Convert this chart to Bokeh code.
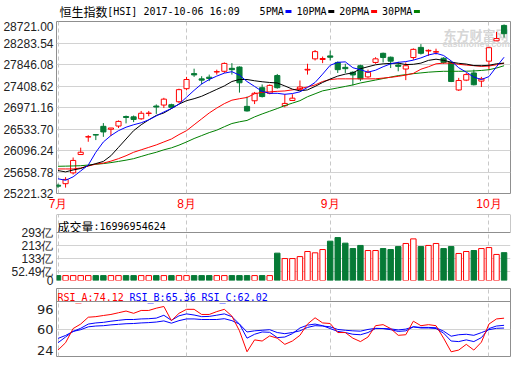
from bokeh.plotting import figure
from bokeh.layouts import column
from bokeh.models import Range1d, FixedTicker, Span, Grid, PrintfTickFormatter
from bokeh.core.properties import value
from bokeh.embed import file_html
from bokeh.resources import INLINE

# ---------------- data ----------------
month_idx = [0, 17, 36, 57]
month_labels = ["7月", "8月", "9月", "10月"]

price_ticks = [25221.32, 25658.78, 26096.24, 26533.70, 26971.16,
               27408.62, 27846.08, 28283.54, 28721.00]

open_ = [25390, 25421, 25641, 26014, 26370, 26420, 26588, 26528, 26594, 26788,
         26781, 26741, 26850, 27001, 27021, 27028, 27088, 27354, 27661, 27554,
         27588, 27694, 27708, 27768, 27794, 26994, 27108, 27374, 27261, 27621,
         27008, 27114, 27341, 27734, 27961, 27948, 28021, 27888, 27788, 27688,
         27821, 27594, 27888, 28074, 27994, 27834, 27754, 27988, 28194, 28121,
         28098, 27974, 27888, 27328, 27528, 27674, 27508, 27914, 28328, 28641]
high = [25420, 25554, 25954, 26154, 26408, 26425, 26654, 26554, 26708, 26808,
        26808, 26901, 26901, 27034, 27168, 27048, 27354, 27594, 27761, 27608,
        27641, 27741, 27888, 27874, 27808, 27194, 27288, 27441, 27441, 27654,
        27241, 27241, 27521, 27861, 28141, 28008, 28128, 27908, 27861, 27708,
        27841, 27741, 27994, 28088, 28008, 27901, 27888, 28174, 28261, 28154,
        28168, 27994, 27908, 27574, 27674, 27741, 27594, 28208, 28508, 28661]
low = [25330, 25341, 25608, 26014, 26274, 26308, 26374, 26394, 26554, 26648,
       26674, 26721, 26794, 26841, 26961, 26941, 27061, 27321, 27594, 27441,
       27508, 27641, 27674, 27641, 27274, 26888, 27041, 27174, 27241, 27354,
       26974, 27108, 27328, 27641, 27928, 27874, 27928, 27674, 27674, 27421,
       27508, 27574, 27861, 27888, 27774, 27708, 27528, 27941, 28048, 28021,
       28048, 27861, 27488, 27308, 27508, 27421, 27388, 27728, 28328, 28394]
close = [25370, 25508, 25894, 26061, 26378, 26410, 26474, 26554, 26688, 26768,
         26728, 26854, 26858, 26981, 27141, 26974, 27334, 27541, 27634, 27528,
         27561, 27701, 27868, 27741, 27474, 26901, 27261, 27194, 27421, 27374,
         27054, 27161, 27388, 27748, 28108, 27968, 27994, 27741, 27761, 27634,
         27554, 27688, 27961, 27988, 27914, 27808, 27821, 28154, 28074, 28134,
         28108, 27888, 27501, 27521, 27641, 27434, 27554, 28188, 28374, 28474]

ma5 = [25521, 25490, 25560, 25680, 25800, 26060, 26270, 26400, 26500, 26570,
       26620, 26660, 26720, 26800, 26880, 26950, 27040, 27180, 27320, 27450,
       27540, 27610, 27670, 27700, 27630, 27500, 27400, 27300, 27260, 27260,
       27240, 27255, 27290, 27380, 27480, 27650, 27830, 27890, 27900, 27780,
       27740, 27690, 27730, 27800, 27860, 27890, 27905, 27935, 27980, 28040,
       28074, 28030, 27920, 27780, 27690, 27590, 27540, 27600, 27800, 27994]
ma10 = [25688, 25661, 25700, 25730, 25787, 25830, 25874, 25990, 26160, 26330,
        26500, 26620, 26720, 26810, 26860, 26950, 27040, 27110, 27150, 27200,
        27270, 27340, 27410, 27500, 27541, 27541, 27515, 27495, 27480, 27470,
        27410, 27345, 27310, 27330, 27400, 27480, 27550, 27610, 27650, 27675,
        27760, 27800, 27840, 27860, 27868, 27874, 27845, 27850, 27874, 27930,
        27954, 27930, 27895, 27870, 27855, 27825, 27821, 27830, 27861, 27874]
ma20 = [25721, 25721, 25721, 25740, 25780, 25820, 25840, 25880, 25930, 25990,
        26060, 26110, 26160, 26210, 26270, 26330, 26420, 26500, 26620, 26740,
        26860, 26960, 27050, 27120, 27150, 27175, 27250, 27280, 27290, 27300,
        27308, 27330, 27354, 27390, 27430, 27500, 27540, 27554, 27554, 27554,
        27554, 27554, 27555, 27570, 27585, 27605, 27630, 27665, 27750, 27800,
        27860, 27874, 27874, 27850, 27835, 27822, 27808, 27815, 27841, 27874]
ma30 = [25775, 25778, 25782, 25787, 25800, 25815, 25830, 25850, 25874, 25900,
        25930, 25975, 26020, 26060, 26110, 26150, 26205, 26270, 26340, 26400,
        26460, 26510, 26580, 26645, 26680, 26708, 26780, 26840, 26895, 26950,
        27010, 27060, 27110, 27190, 27250, 27310, 27340, 27370, 27400, 27430,
        27470, 27500, 27530, 27560, 27590, 27620, 27640, 27660, 27675, 27690,
        27700, 27708, 27708, 27708, 27710, 27715, 27725, 27740, 27774, 27821]

# volume, in 亿
volume = [30, 30, 30, 30, 30, 30, 30, 30, 30, 30,
          30, 30, 30, 30, 30, 30, 30, 30, 30, 30,
          30, 30, 30, 30, 30, 30, 30, 30, 30, 167,
          134, 134, 146, 177, 169, 189, 240, 262, 228, 195,
          214, 183, 183, 195, 189, 207, 226, 254, 207, 214,
          226, 195, 207, 165, 177, 183, 195, 201, 159, 170]
vol_ticks = [0, 52.49, 133, 213, 293]
vol_tick_labels = ["0", "52.49亿", "133亿", "213亿", "293亿"]

rsi_a = [35.0, 44.0, 61.4, 66.9, 75.3, 76.0, 77.4, 78.7, 80.8, 82.9,
         80.1, 83.6, 83.6, 86.4, 88.5, 71.1, 80.1, 85.0, 85.0, 78.7,
         78.7, 82.2, 85.0, 76.7, 58.6, 32.9, 47.5, 46.1, 52.4, 49.6,
         42.0, 46.1, 53.1, 66.9, 74.6, 68.3, 67.6, 56.5, 56.5, 49.6,
         45.4, 51.0, 64.9, 66.2, 61.4, 53.1, 53.8, 70.4, 64.9, 66.2,
         64.9, 49.6, 32.9, 35.0, 42.0, 35.0, 44.7, 66.9, 73.2, 74.12]
rsi_b = [44.0, 51.0, 57.9, 61.7, 66.9, 68.3, 69.0, 70.4, 71.5, 72.5,
         72.5, 73.2, 73.5, 74.2, 77.7, 71.5, 77.0, 79.4, 78.0, 76.0,
         76.3, 77.8, 79.4, 76.0, 66.9, 49.6, 54.4, 57.2, 56.8, 50.3,
         51.0, 55.1, 62.1, 65.6, 66.9, 64.9, 61.4, 57.9, 56.5, 54.4,
         53.8, 56.5, 61.4, 61.4, 60.0, 57.9, 58.6, 63.5, 62.1, 62.1,
         61.4, 55.8, 46.1, 45.4, 47.5, 45.4, 50.3, 61.4, 64.5, 65.36]
rsi_c = [49.3, 52.9, 57.9, 60.0, 63.5, 64.5, 64.9, 65.9, 66.6, 67.3,
         67.6, 68.3, 68.7, 69.4, 70.8, 68.0, 71.1, 73.2, 73.2, 72.5,
         72.5, 72.5, 73.5, 71.1, 66.9, 57.2, 58.6, 59.3, 60.0, 56.5,
         55.1, 56.5, 58.6, 62.8, 64.9, 64.5, 63.5, 60.3, 59.3, 58.6,
         58.2, 60.3, 61.7, 61.4, 61.0, 59.7, 60.7, 63.5, 62.8, 62.8,
         62.4, 58.2, 52.0, 53.8, 54.4, 53.1, 56.4, 60.0, 61.7, 62.02]
rsi_tick_labels = ["24", "60", "96"]

title_cjk = "恒生指数"
title_latin = "[HSI] 2017-10-06 16:09"
ma_names = ["5PMA", "10PMA", "20PMA", "30PMA"]
vol_header_cjk = "成交量"
vol_header_num = ":16996954624"
rsi_names = ["RSI_A", "RSI_B", "RSI_C"]

# ---------------- styles ----------------
RED = "#ff0000"
GREEN = "#067a36"
MA_COLORS = ["#0000ff", "#000000", "#ff0000", "#008000"]
RSI_COLORS = ["#ff0000", "#0000ff", "#0000ff"]
BORDER = "#8f8f8f"
GRID = "#d2d2d2"
VGRID = "#c8c8c8"
MONO = "DejaVu Sans Mono"
CJK = "Noto Sans CJK SC"
SANS = "Liberation Sans"
TXT = "#222222"

n = len(close)
idx = list(range(n))
X0, X1 = -0.2, 59.85
W = 512
LB, RB = 56, 2
FRAME_L, FRAME_R = LB, W - RB


def px_to_idx(px):
    return X0 + (px - FRAME_L) * (X1 - X0) / float(FRAME_R - FRAME_L)


def style_yaxis(ax, font, size, standoff):
    ax.major_label_text_font = font
    ax.major_label_text_font_size = size
    ax.major_label_text_color = TXT
    ax.major_label_standoff = standoff
    ax.major_tick_line_color = None
    ax.minor_tick_line_color = None
    ax.major_tick_out = 0
    ax.major_tick_in = 0
    ax.minor_tick_out = 0
    ax.minor_tick_in = 0
    ax.axis_line_color = None


# ---------------- title strip (data units = pixels) ----------------
STRIP_H = 21
pt = figure(width=W, height=STRIP_H, x_range=Range1d(FRAME_L - 2, FRAME_R),
            y_range=Range1d(STRIP_H, 0),
            x_axis_type=None, y_axis_type=None, output_backend="svg",
            toolbar_location=None, min_border_left=LB - 2, min_border_right=RB,
            min_border_top=0, min_border_bottom=0)
pt.outline_line_color = None
pt.grid.visible = False
TM = 10.5
pt.text(x=[57], y=[TM], text=[title_cjk], text_font=value(CJK),
        text_font_size="12px", text_baseline="middle", text_color="#000000")
pt.text(x=[57 + 12 * len(title_cjk)], y=[TM], text=[title_latin], text_font=value(MONO),
        text_font_size="10px", text_baseline="middle", text_color="#000000")
xpos = 258
for name, col in zip(ma_names, MA_COLORS):
    pt.text(x=[xpos], y=[TM], text=[name], text_font=value(MONO),
            text_font_size="10px", text_baseline="middle", text_color="#000000")
    end = xpos + 6 * len(name)
    pt.quad(left=[end + 2], right=[end + 8], top=[9.5], bottom=[12.5],
            fill_color=col, line_color=None)
    xpos = end + 13

# ---------------- main candlestick panel ----------------
p = figure(width=W, height=192, x_range=Range1d(X0, X1),
           y_range=Range1d(price_ticks[0], price_ticks[-1]),
           output_backend="svg", toolbar_location=None,
           min_border_left=LB, min_border_right=RB, min_border_top=0,
           min_border_bottom=17)
p.outline_line_color = BORDER

p.yaxis.ticker = FixedTicker(ticks=price_ticks)
p.yaxis.formatter = PrintfTickFormatter(format="%.2f")
style_yaxis(p.yaxis[0], SANS, "12px", 3)

p.xaxis.ticker = FixedTicker(ticks=month_idx)
p.xaxis.major_label_overrides = {m: t for m, t in zip(month_idx, month_labels)}
p.xaxis.major_label_text_align = "left"
p.xaxis.major_label_text_color = RED
p.xaxis.major_label_text_font = SANS
p.xaxis.major_label_text_font_size = "12px"
p.xaxis.major_label_standoff = 3
p.xaxis.major_tick_line_color = None
p.xaxis.minor_tick_line_color = None
p.xaxis.major_tick_out = 0
p.xaxis.major_tick_in = 0
p.xaxis.minor_tick_out = 0
p.xaxis.minor_tick_in = 0
p.xaxis.axis_line_color = None

p.xgrid.grid_line_color = VGRID
p.xgrid.grid_line_dash = "4 3"
p.ygrid.grid_line_color = GRID


def price_at_px(py):
    return price_ticks[-1] - (py - 21) * (price_ticks[-1] - price_ticks[0]) / 175.0


# watermark
p.text(x=[px_to_idx(443)], y=[price_at_px(34)], text=["东方财富网"],
       text_font=value(CJK), text_font_size="13px", text_font_style="bold",
       text_color="#d6d6d6", text_baseline="alphabetic")
p.text(x=[px_to_idx(442)], y=[price_at_px(43.5)], text=["eastmoney.com"],
       text_font=value(SANS), text_font_size="9px", text_font_style="bold",
       text_color="#d6d6d6", text_baseline="alphabetic")

up = [i for i in idx if close[i] >= open_[i]]
dn = [i for i in idx if close[i] < open_[i]]
cols = [RED if close[i] >= open_[i] else GREEN for i in idx]

p.segment(x0=idx, y0=high, x1=idx, y1=low, line_color=cols, line_width=1)
p.vbar(x=up, width=0.68, top=[close[i] for i in up], bottom=[open_[i] for i in up],
       fill_color="white", line_color=RED, line_width=1)
p.vbar(x=dn, width=0.68, top=[open_[i] for i in dn], bottom=[close[i] for i in dn],
       fill_color=GREEN, line_color=GREEN, line_width=1)

for series, col in zip([ma30, ma20, ma10, ma5], MA_COLORS[::-1]):
    p.line(idx, series, line_color=col, line_width=1)

# ---------------- volume panel ----------------
VTOP = 293 + 18 * 293 / 48.0
pv = figure(width=W, height=74, x_range=p.x_range, y_range=Range1d(0, VTOP),
            x_axis_type=None, output_backend="svg", toolbar_location=None,
            min_border_left=LB, min_border_right=RB, min_border_top=1,
            min_border_bottom=7)
pv.outline_line_color = None
pv.yaxis.ticker = FixedTicker(ticks=vol_ticks)
pv.yaxis.major_label_overrides = {t: s for t, s in zip(vol_ticks, vol_tick_labels)}
style_yaxis(pv.yaxis[0], SANS, "12px", 3)
pv.ygrid.grid_line_color = GRID
pv.add_layout(Grid(dimension=0, ticker=FixedTicker(ticks=month_idx),
                   grid_line_color=VGRID, grid_line_dash="4 3"))
pv.add_layout(Span(location=X0, dimension="height", line_color=BORDER, line_width=1))
pv.add_layout(Span(location=VTOP, dimension="width", line_color=BORDER, line_width=1))
pv.add_layout(Span(location=293, dimension="width", line_color=BORDER, line_width=1))
pv.segment(x0=[X1], y0=[293], x1=[X1], y1=[VTOP], line_color=BORDER, line_width=1)

pv.vbar(x=up, width=0.72, top=[volume[i] for i in up], bottom=0,
        fill_color="white", line_color=RED, line_width=1)
pv.vbar(x=dn, width=0.72, top=[volume[i] for i in dn], bottom=0,
        fill_color=GREEN, line_color=GREEN, line_width=1)
vy = (280 - 226.0) * 293 / 48.0
pv.text(x=[px_to_idx(57)], y=[vy], text=[vol_header_cjk],
        text_font=value(CJK), text_font_size="12px", text_baseline="alphabetic",
        text_color="#000000")
pv.text(x=[px_to_idx(57 + 12 * len(vol_header_cjk))], y=[vy], text=[vol_header_num],
        text_font=value(MONO), text_font_size="10px", text_baseline="alphabetic",
        text_color="#000000")

# ---------------- RSI panel ----------------
R0 = 27.1
R_SEP = 94.6
FR_TOP, FR_BOT, SEP_PX = 288, 356, 301
PXU = (FR_BOT - SEP_PX) / (R_SEP - R0)
R1 = R_SEP + (SEP_PX - FR_TOP) / PXU


def rsi_at_px(py):
    return R1 - (py - FR_TOP) / PXU


rsi_tick_pos = [35.05, 60, 84.95]
pr = figure(width=W, height=70, x_range=p.x_range, y_range=Range1d(R0, R1),
            x_axis_type=None, output_backend="svg", toolbar_location=None,
            min_border_left=LB, min_border_right=RB, min_border_top=1,
            min_border_bottom=1)
pr.outline_line_color = BORDER
pr.yaxis.ticker = FixedTicker(ticks=rsi_tick_pos)
pr.yaxis.major_label_overrides = {t: s for t, s in zip(rsi_tick_pos, rsi_tick_labels)}
style_yaxis(pr.yaxis[0], "DejaVu Sans", "13px", 3)
pr.ygrid.ticker = FixedTicker(ticks=[60])
pr.ygrid.grid_line_color = GRID
pr.add_layout(Grid(dimension=0, ticker=FixedTicker(ticks=month_idx),
                   grid_line_color=VGRID, grid_line_dash="4 3"))
pr.add_layout(Span(location=R_SEP, dimension="width", line_color=BORDER, line_width=1))

for series, col in zip([rsi_c, rsi_b, rsi_a], RSI_COLORS[::-1]):
    pr.line(idx, series, line_color=col, line_width=1)

hx = 57
for name, series, col in zip(rsi_names, [rsi_a, rsi_b, rsi_c], RSI_COLORS):
    label = "%s:%.2f" % (name, series[-1])
    pr.text(x=[px_to_idx(hx)], y=[rsi_at_px(297.0)], text=[label],
            text_font=value(MONO), text_font_size="10px", text_baseline="alphabetic",
            text_color=col)
    hx += 6 * (len(label) + 1)

layout = column(pt, p, pv, pr, spacing=0)
open("out.html", "w").write(file_html(layout, INLINE))
